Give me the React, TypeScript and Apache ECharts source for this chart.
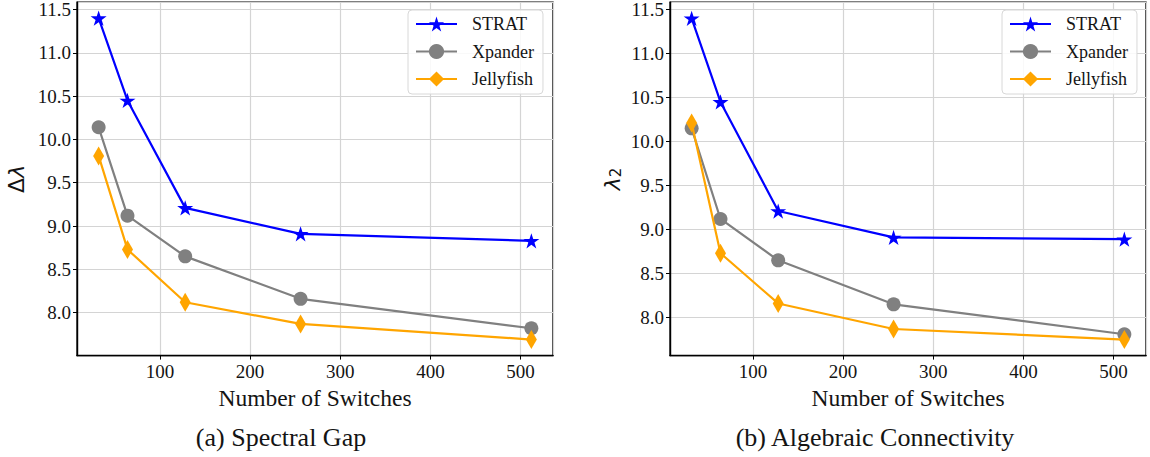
import React, { useEffect, useRef } from "react";
import * as echarts from "echarts";

// Number of switches in each topology
const switches = [32, 64, 128, 256, 512];

// (a) Spectral gap
const gapStrat = [11.4, 10.45, 9.21, 8.91, 8.83];
const gapXpander = [10.14, 9.12, 8.65, 8.16, 7.82];
const gapJellyfish = [9.81, 8.73, 8.12, 7.87, 7.69];

// (b) Algebraic connectivity
const connStrat = [11.4, 10.45, 9.21, 8.91, 8.89];
const connXpander = [10.15, 9.12, 8.65, 8.15, 7.81];
const connJellyfish = [10.21, 8.73, 8.16, 7.87, 7.75];

const seriesNames = ["STRAT", "Xpander", "Jellyfish"];
const captions = ["(a) Spectral Gap", "(b) Algebraic Connectivity"];
const xTitle = "Number of Switches";

const SERIF = "'Liberation Serif', 'Times New Roman', serif";
const SANS = "'DejaVu Sans', sans-serif";
const TEXT = "#141414";

// five-pointed star, same proportions as a matplotlib '*' marker
function starPath(): string {
  const pts: string[] = [];
  for (let i = 0; i < 10; i++) {
    const r = i % 2 === 0 ? 1 : 0.381966;
    const a = -Math.PI / 2 + (i * Math.PI) / 5;
    pts.push(`${(r * Math.cos(a) + 1).toFixed(4)} ${(r * Math.sin(a) + 1).toFixed(4)}`);
  }
  return "path://M" + pts.join(" L") + " Z";
}

const styles = [
  { color: "#0000ff", symbol: starPath(), size: 16 as number | number[] },
  { color: "#808080", symbol: "circle", size: 14 as number | number[] },
  { color: "#ffa500", symbol: "diamond", size: [11, 19] as number | number[] },
];

// matplotlib-style 5% margin around the data
function paddedRange(values: number[][]): [number, number] {
  const all = values.flat();
  const lo = Math.min(...all);
  const hi = Math.max(...all);
  const pad = (hi - lo) * 0.05;
  return [lo - pad, hi + pad];
}

const GRID_W = 476;
const GRID_TOP = 1;
const GRID_H = 354.6;
const GRID_LEFTS = [77, 670];

export default function App() {
  const ref = useRef<HTMLDivElement>(null);

  useEffect(() => {
    document.body.style.margin = "0";
    if (!ref.current) return;
    const chart = echarts.init(ref.current, undefined, { renderer: "svg" });

    const panels = [
      { data: [gapStrat, gapXpander, gapJellyfish], name: "Δ{l|λ}" },
      { data: [connStrat, connXpander, connJellyfish], name: "{l|λ}{s|2}" },
    ];
    const xRange: [number, number] = paddedRange([switches]);

    const grid = GRID_LEFTS.map((left) => ({
      left,
      top: GRID_TOP,
      width: GRID_W,
      height: GRID_H,
      show: true,
      borderColor: "#000",
      borderWidth: 1.4,
      backgroundColor: "transparent",
    }));

    const xAxis = panels.map((_, i) => ({
      type: "value",
      gridIndex: i,
      min: xRange[0],
      max: xRange[1],
      minInterval: 100,
      maxInterval: 100,
      name: xTitle,
      nameLocation: "middle",
      nameGap: 26,
      nameTextStyle: { fontFamily: SERIF, fontSize: 23.5, color: TEXT },
      axisLine: { show: true, onZero: false, lineStyle: { color: "#000", width: 1.4 } },
      axisTick: { show: true, length: 4, lineStyle: { color: "#000", width: 1 } },
      axisLabel: {
        showMinLabel: false,
        showMaxLabel: false,
        margin: 6,
        fontFamily: SERIF,
        fontSize: 19,
        color: TEXT,
      },
      splitLine: { show: true, lineStyle: { color: "#d4d4d4", width: 1.2 } },
    }));

    const yAxis = panels.map((p, i) => {
      const [lo, hi] = paddedRange(p.data);
      return {
        type: "value",
        gridIndex: i,
        min: lo,
        max: hi,
        minInterval: 0.5,
        maxInterval: 0.5,
        name: p.name,
        nameLocation: "middle",
        nameRotate: 90,
        nameGap: i === 0 ? 50 : 47,
        nameTextStyle: {
          fontFamily: SANS,
          fontSize: 22,
          color: TEXT,
          rich: {
            l: { fontFamily: SANS, fontStyle: "italic", fontSize: 22, lineHeight: 22, verticalAlign: "top", color: TEXT },
            s: { fontFamily: SANS, fontSize: 15, lineHeight: 15, verticalAlign: "bottom", padding: [9, 0, 0, 0], color: TEXT },
          },
        },
        axisLine: { show: true, onZero: false, lineStyle: { color: "#000", width: 1.4 } },
        axisTick: { show: true, length: 4, lineStyle: { color: "#000", width: 1 } },
        axisLabel: {
          showMinLabel: false,
          showMaxLabel: false,
          margin: 6,
          fontFamily: SERIF,
          fontSize: 19,
          color: TEXT,
          formatter: (v: number) => v.toFixed(1),
        },
        splitLine: { show: true, lineStyle: { color: "#d4d4d4", width: 1.2 } },
      };
    });

    const series: any[] = [];
    panels.forEach((p, gi) => {
      p.data.forEach((vals, si) => {
        const st = styles[si];
        series.push({
          type: "line",
          name: seriesNames[si],
          xAxisIndex: gi,
          yAxisIndex: gi,
          data: switches.map((x, k) => [x, vals[k]]),
          symbol: st.symbol,
          symbolSize: st.size,
          symbolKeepAspect: true,
          showAllSymbol: true,
          lineStyle: { color: st.color, width: 2.2 },
          itemStyle: { color: st.color, borderWidth: 0 },
          z: 3 + si,
        });
      });
    });

    const legendLefts = [408, 1002];
    const legend = legendLefts.map((left) => ({
      left,
      top: 10,
      orient: "vertical",
      align: "left",
      data: seriesNames,
      selectedMode: false,
      itemWidth: 41,
      itemHeight: 19,
      itemGap: 9.5,
      padding: [5, 9, 6, 7],
      backgroundColor: "rgba(255,255,255,0.85)",
      borderColor: "#d8d8d8",
      borderWidth: 1,
      borderRadius: 4,
      formatter: (name: string) => `{t|${name}}`,
      textStyle: {
        fontFamily: SERIF,
        fontSize: 18,
        color: TEXT,
        rich: { t: { fontFamily: SERIF, fontSize: 18, color: TEXT, padding: [0, 0, 0, 10] } },
      },
    }));

    const captionCenters = [281, 875];
    const graphic = captions.map((text, i) => ({
      type: "text",
      x: captionCenters[i],
      y: 437,
      style: {
        text,
        fontFamily: SERIF,
        fontSize: 26,
        fill: TEXT,
        textAlign: "center",
        textVerticalAlign: "middle",
      },
    }));

    chart.setOption({
      animation: false,
      backgroundColor: "#fff",
      grid,
      xAxis,
      yAxis,
      legend,
      series,
      graphic,
    });

    return () => chart.dispose();
  }, []);

  return <div ref={ref} style={{ width: 1150, height: 457 }} />;
}
